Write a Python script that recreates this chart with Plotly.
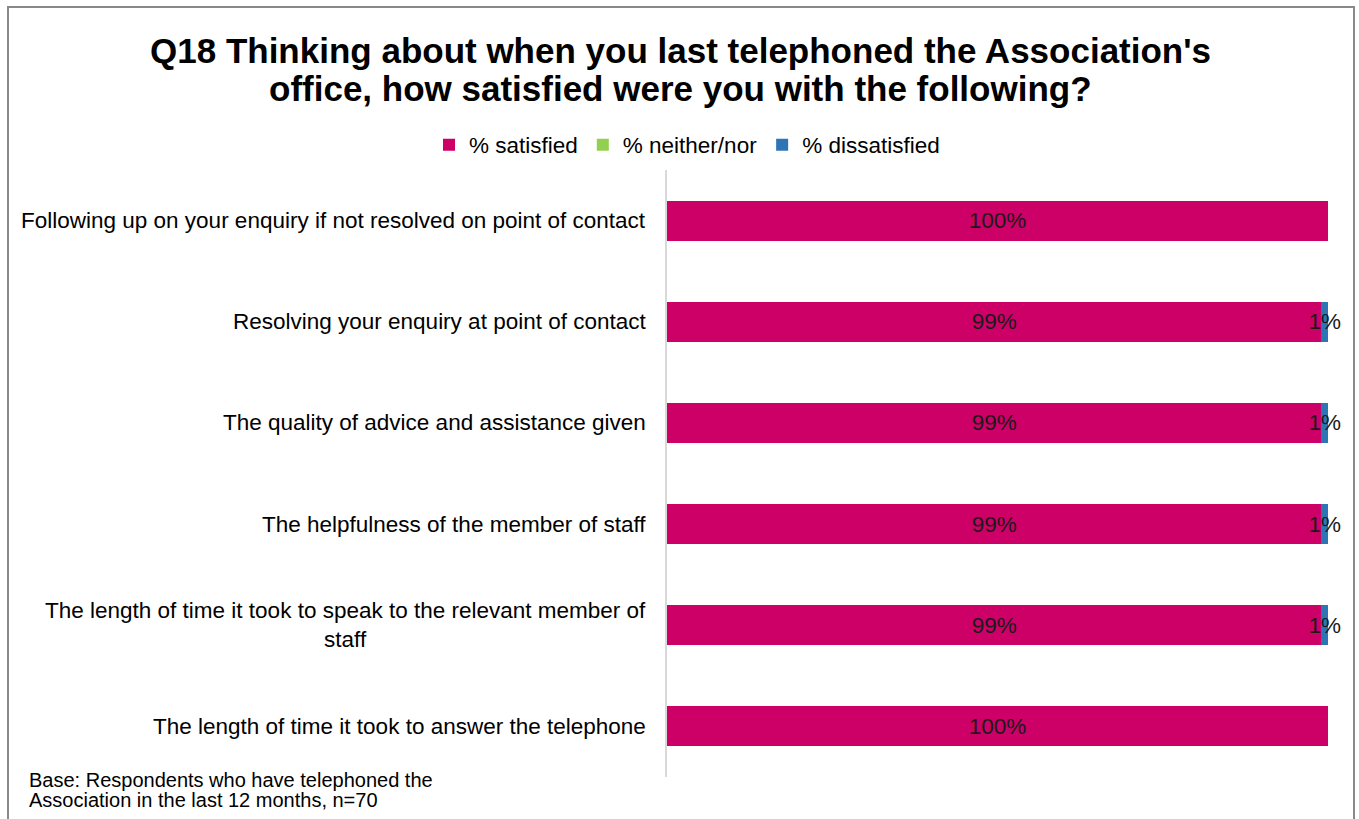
import plotly.graph_objects as go

# Survey items, listed top to bottom
items = [
    "Following up on your enquiry if not resolved on point of contact",
    "Resolving your enquiry at point of contact",
    "The quality of advice and assistance given",
    "The helpfulness of the member of staff",
    "The length of time it took to speak to the relevant member of<br>staff",
    "The length of time it took to answer the telephone",
]
satisfied = [100, 99, 99, 99, 99, 100]
neither = [0, 0, 0, 0, 0, 0]
dissatisfied = [0, 1, 1, 1, 1, 0]

series_names = ["% satisfied", "% neither/nor", "% dissatisfied"]
series_colors = ["#CC0066", "#92D050", "#2E75B6"]

title_lines = [
    "Q18 Thinking about when you last telephoned the Association's",
    "office, how satisfied were you with the following?",
]
base_lines = [
    "Base: Respondents who have telephoned the",
    "Association in the last 12 months, n=70",
]

W, H = 1359, 819
ML, MR, MT, MB = 667, 31, 170, 42
PW, PH = W - ML - MR, H - MT - MB

FONT = "Liberation Sans, Arial, sans-serif"
LABEL_SIZE = 22.5


def px_x(x):
    """Page x pixel -> paper x."""
    return (x - ML) / PW


def px_y(y):
    """Page y pixel (from top) -> paper y."""
    return (H - MB - y) / PH


cats = [f"c{i}" for i in range(len(items))]


def labels(vals):
    return [f"{v}%" if v > 0 else "" for v in vals]


fig = go.Figure()
for name, vals, col in zip(series_names, [satisfied, neither, dissatisfied], series_colors):
    fig.add_trace(go.Bar(
        y=cats, x=vals, name=name, orientation="h",
        marker=dict(color=col, line=dict(width=0)),
        text=labels(vals), textposition="inside", insidetextanchor="middle",
        constraintext="none", textangle=0,
        textfont=dict(family=FONT, size=LABEL_SIZE, color="#1a1a1a"),
        cliponaxis=False, hoverinfo="skip",
    ))

# Category labels, right-aligned against the axis with centred line wrapping
for c, label in zip(cats, items):
    fig.add_annotation(
        x=px_x(648), xref="paper", y=c, yref="y",
        text=label, showarrow=False, xanchor="right", align="center",
        font=dict(family=FONT, size=LABEL_SIZE, color="#000000"),
    )

# Title, two tightly spaced lines
for line, yc in zip(title_lines, [50, 88]):
    fig.add_annotation(
        x=px_x(680), xref="paper", y=px_y(yc), yref="paper",
        text=f"<b>{line}</b>", showarrow=False, xanchor="center", yanchor="middle",
        font=dict(family=FONT, size=35, color="#000000"),
    )

# Base note
for line, yc in zip(base_lines, [780, 800]):
    fig.add_annotation(
        x=px_x(27), xref="paper", y=px_y(yc), yref="paper",
        text=line, showarrow=False, xanchor="left", yanchor="middle",
        font=dict(family=FONT, size=20, color="#000000"),
    )

# Outer chart frame
fig.add_shape(
    type="rect", xref="paper", yref="paper",
    x0=px_x(8), x1=px_x(1354), y0=px_y(840), y1=px_y(7),
    line=dict(color="#898989", width=2), fillcolor="rgba(0,0,0,0)", layer="below",
)

fig.update_layout(
    width=W, height=H,
    margin=dict(l=ML, r=MR, t=MT, b=MB, autoexpand=False),
    paper_bgcolor="white", plot_bgcolor="white",
    barmode="stack", bargap=0.605,
    font=dict(family=FONT, color="#000000"),
    legend=dict(
        orientation="h", xref="container", yref="container",
        x=687 / W, xanchor="center", y=1 - 145 / H, yanchor="middle",
        font=dict(family=FONT, size=LABEL_SIZE, color="#000000"),
        itemclick=False, traceorder="normal",
    ),
    xaxis=dict(range=[0, 100], visible=False, fixedrange=True),
    yaxis=dict(
        categoryorder="array", categoryarray=cats, autorange="reversed",
        showticklabels=False, ticks="", showgrid=False,
        showline=True, linecolor="#d9d9d9", linewidth=2,
        fixedrange=True,
    ),
    showlegend=True,
)

fig.write_html("out.html")
